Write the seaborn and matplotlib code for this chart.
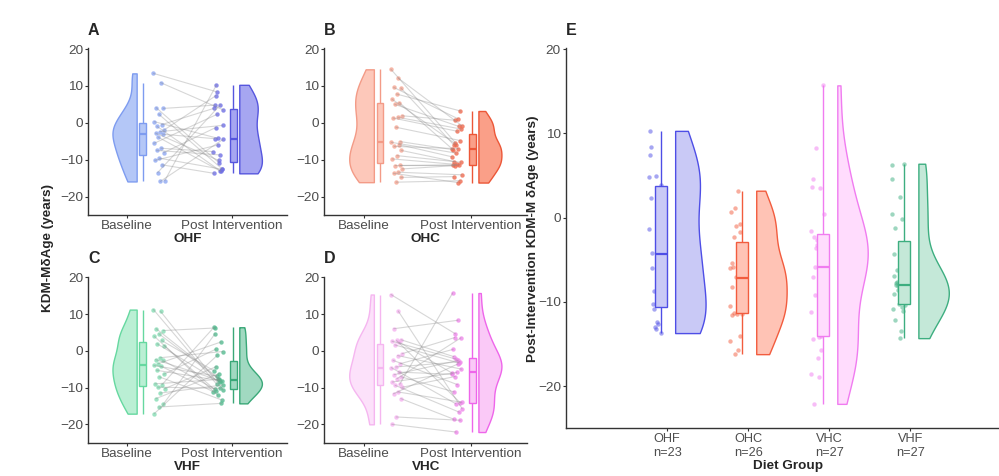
import numpy as np
import pandas as pd
import seaborn as sns
import matplotlib.pyplot as plt

sns.set_theme(style='white')
plt.rcParams['font.family'] = ['Liberation Sans', 'DejaVu Sans']

groups = ['OHF', 'OHC', 'VHC', 'VHF']
time_labels = ['Baseline', 'Post Intervention']

# paired KDM-M dAge (years): baseline[i] belongs with post[i]
ohf_base = [13.4, 10.9, 4.1, 3.9, 2.3, 0.3, -0.5, -1.0, -1.9, -2.4, -2.8, -3.1,
            -3.9, -5.6, -6.9, -7.5, -8.1, -9.6, -10.2, -11.4, -13.5, -15.7, -15.9]
ohf_post = [8.4, 3.5, -10.9, 4.8, -12.4, -4.2, 3.9, -13.0, 7.4, -0.7, -10.2, -4.3,
            -13.2, 2.3, -7.8, -8.7, -1.3, -12.6, -6.0, -13.7, 4.9, 10.3, -4.5]

ohc_base = [14.5, 12.1, 9.6, 9.4, 7.8, 6.4, 5.5, 5.0, 1.9, 1.5, 1.3, -5.1, -1.2,
            -5.3, -5.9, -6.4, -7.5, -8.9, -9.8, -11.4, -11.6, -12.5, -13.4, -13.7,
            -14.8, -16.1]
ohc_post = [-5.4, -0.8, 1.1, -6.0, 3.2, -5.9, -7.1, -1.0, 0.7, -1.7, -2.3, -7.3,
            -4.8, -8.2, -9.2, -7.0, -10.5, -10.7, -11.3, -11.4, -11.4, -11.6, -14.1,
            -16.2, -14.6, -15.7]

vhc_base = [15.3, 10.8, 6.0, 3.0, 2.8, 2.6, 2.3, 1.6, -0.8, -1.3, -2.6, -3.5, -4.4,
            -4.6, -5.8, -6.5, -7.1, -7.6, -8.5, -9.1, -9.4, -9.9, -11.2, -11.7, -13.0,
            -18.0, -20.0]
vhc_post = [4.6, -15.7, 8.3, -1.6, -14.2, -2.3, -6.1, -3.3, 3.6, -5.0, -9.2, 0.4, -3.0,
            -14.4, -6.4, -2.6, -11.2, 3.5, -5.9, 15.7, -16.7, -7.0, -14.0, -3.6, -18.6,
            -18.9, -22.1]

vhf_base = [11.2, 10.7, 6.0, 5.5, 4.6, 3.9, 2.8, 1.9, 1.4, -1.9, -2.4, -2.6, -3.5,
            -4.0, -4.2, -5.3, -6.4, -7.1, -9.0, -9.2, -9.9, -10.3, -11.5, -13.0, -14.6,
            -15.3, -17.1]
vhf_post = [-9.1, -10.6, -7.6, 6.2, -8.3, -12.1, -5.4, -8.6, -10.9, -0.2, -8.0, -10.4,
            2.4, -6.9, -11.1, -8.1, 0.4, -13.4, -7.8, 6.4, -10.2, -4.3, -9.3, -6.2, 4.6,
            -14.3, -1.2]

base = {'OHF': ohf_base, 'OHC': ohc_base, 'VHC': vhc_base, 'VHF': vhf_base}
post = {'OHF': ohf_post, 'OHC': ohc_post, 'VHC': vhc_post, 'VHF': vhf_post}

# colours: baseline face/edge/point, post face/edge/point, panel E face/edge
pal = {
    'OHF': dict(bf='#B4C7F7', be='#7E9CF0', bp='#8FA8F2', pf='#A6A6F1', pe='#5656DE',
                pp='#6F6FE4', ef='#C9C9F6', ee='#4E4EE6'),
    'OHC': dict(bf='#FDC8BA', be='#F39B87', bp='#F4A491', pf='#FA9F88', pe='#EC5738',
                pp='#EE6B50', ef='#FFC3B5', ee='#F25C3E'),
    'VHC': dict(bf='#FCE1FA', be='#F5B6F0', bp='#F4B2EF', pf='#FAC9F7', pe='#EE66EA',
                pp='#EE88EA', ef='#FFDCFD', ee='#F07CF0'),
    'VHF': dict(bf='#BAEFD4', be='#66D8A0', bp='#86DDB4', pf='#A1D9C1', pe='#3AA878',
                pp='#55BB90', ef='#C4E8D8', ee='#3DAE80'),
}
panel_of = {'OHF': 'A', 'OHC': 'B', 'VHF': 'C', 'VHC': 'D'}

W, H = 999, 476
fig = plt.figure(figsize=(W / 100, H / 100), dpi=100)


def px_axes(l, t, r, b):
    return fig.add_axes([l / W, 1 - b / H, (r - l) / W, (b - t) / H])


def spread(n, centre, half, phase=0.0):
    return centre + ((np.arange(n) * 0.618034 + phase) % 1 - 0.5) * 2 * half


def half_violin(ax, vals, pos, right, face, edge, half_w):
    d = pd.DataFrame({'x': pos, 'y': vals, 'side': 'R' if right else 'L'})
    sns.violinplot(data=d, x='x', y='y', hue='side', hue_order=['L', 'R'],
                   palette={'L': face, 'R': face}, split=True, dodge=True,
                   native_scale=True, orient='x', width=2 * half_w, inner=None,
                   cut=0, density_norm='width', bw_adjust=0.85, linecolor=edge,
                   linewidth=1, saturation=1, legend=False, ax=ax)


def box(ax, vals, pos, face, edge, width):
    d = pd.DataFrame({'x': pos, 'y': vals})
    sns.boxplot(data=d, x='x', y='y', native_scale=True, orient='x', width=width,
                color=face, linecolor=edge, linewidth=1, showfliers=False,
                showcaps=False, saturation=1, medianprops={'linewidth': 1.6}, ax=ax)


def style(ax, ylim):
    sns.despine(ax=ax)
    for s in ['left', 'bottom']:
        ax.spines[s].set_color('#333333')
        ax.spines[s].set_linewidth(1.0)
    ax.tick_params(axis='both', length=2.5, width=0.8, color='#333333',
                   labelcolor='#4D4D4D', labelsize=9.7, pad=1, left=True, bottom=True)
    ax.set_ylim(*ylim)
    ax.set_yticks([-20, -10, 0, 10, 20])


boxes = {'OHF': (88, 48.3, 287, 215), 'OHC': (324.3, 48.3, 527, 215),
         'VHF': (88, 276.5, 287, 442.7), 'VHC': (324.3, 276.5, 527, 442.7)}

for g, (l, t, r, b) in boxes.items():
    ax = px_axes(l, t, r, b)
    c = pal[g]
    yb, yp = np.array(base[g]), np.array(post[g])
    n = len(yb)
    xb = spread(n, 0.31, 0.055)
    xp = spread(n, 0.87, 0.05, 0.37)
    pairs = pd.DataFrame({'id': np.r_[np.arange(n), np.arange(n)],
                          'x': np.r_[xb, xp], 'y': np.r_[yb, yp]})
    half_violin(ax, yb, 0.095, False, c['bf'], c['be'], 0.23)
    half_violin(ax, yp, 1.072, True, c['pf'], c['pe'], 0.215)
    box(ax, yb, 0.152, c['bf'], c['be'], 0.064)
    box(ax, yp, 1.015, c['pf'], c['pe'], 0.064)
    sns.lineplot(data=pairs, x='x', y='y', units='id', estimator=None, sort=False,
                 color='#8C8C8C', alpha=0.35, lw=0.8, legend=False, ax=ax)
    sns.scatterplot(x=xb, y=yb, color=c['bp'], s=10, alpha=0.8, linewidth=0, ax=ax)
    sns.scatterplot(x=xp, y=yp, color=c['pp'], s=10, alpha=0.8, linewidth=0, ax=ax)
    style(ax, (-25, 20.2))
    ax.set_xlim(-0.368, 1.526)
    ax.set_xticks([0, 1])
    ax.set_xticklabels(time_labels)
    ax.set_xlabel(g, fontsize=9.7, fontweight='bold', labelpad=1)
    ax.set_ylabel('')
    fig.text(l / W, 1 - (t - 13.5) / H, panel_of[g], fontsize=11.5, fontweight='bold',
             ha='left', va='baseline')

fig.text(47.5 / W, 1 - 247.5 / H, 'KDM-MδAge (years)', rotation=90, fontsize=9.7,
         fontweight='bold', ha='center', va='center')

# panel E: post-intervention values by diet group
axE = px_axes(565.7, 48.3, 1010, 428.3)
for i, g in enumerate(groups):
    c = pal[g]
    yp = np.array(post[g])
    half_violin(axE, yp, i + 0.1, True, c['ef'], c['ee'], 0.375)
    box(axE, yp, i - 0.075, c['ef'], c['ee'], 0.15)
    sns.scatterplot(x=spread(len(yp), i - 0.15, 0.085, 0.2), y=yp, color=c['ee'],
                    s=10, alpha=0.5, linewidth=0, ax=axE)
style(axE, (-25, 20.1))
axE.set_xlim(-1.25, 4.23)
axE.set_xticks(range(len(groups)))
axE.set_xticklabels([f'{g}\nn={len(post[g])}' for g in groups], fontsize=9.2)
axE.set_xlabel('Diet Group', fontsize=9.7, fontweight='bold', labelpad=1)
axE.set_ylabel('Post-Intervention KDM-M δAge (years)', fontsize=9.7, fontweight='bold')
axE.yaxis.set_label_coords(-0.06, 0.5)
fig.text(566 / W, 1 - 35 / H, 'E', fontsize=11.5, fontweight='bold', ha='left',
         va='baseline')

fig.savefig('out.png', dpi=100)
